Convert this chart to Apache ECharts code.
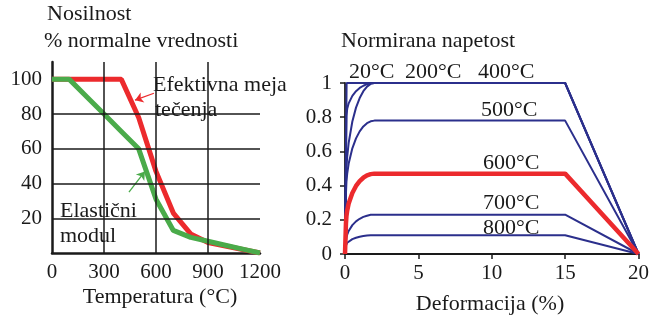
<!DOCTYPE html>
<html><head><meta charset="utf-8">
<script src="https://cdn.jsdelivr.net/npm/echarts@6/dist/echarts.min.js"></script>
<style>html,body{margin:0;padding:0;background:#fff}#c{width:652px;height:324px}</style>
</head><body><div id="c"></div>
<script>
// ---- Left chart: Nosilnost (% normalne vrednosti) vs temperature ----
const tempC = [0, 100, 200, 300, 400, 500, 600, 700, 800, 900, 1000, 1100, 1200];
const yieldPct = [100, 100, 100, 100, 100, 78, 47, 23, 11, 6, 4, 2, 0];
const modulusPct = [100, 100, 90, 80, 70, 60, 31, 13, 9, 6.75, 4.5, 2.25, 0];
const leftXTicks = [0, 300, 600, 900, 1200];
const leftYGrid = [20, 40, 60, 80];
const leftXGrid = [300, 600, 900];

// ---- Right chart: normalized stress vs strain (%) ----
const strain20 = [0, 0.11, 15, 20];
const stress20 = [0, 1, 1, 0];
const strain200 = [0, 0.10, 0.15, 0.25, 0.5, 0.75, 1, 1.25, 1.5, 1.75, 2, 15, 20];
const stress200 = [0, 0.807, 0.849, 0.881, 0.925, 0.952, 0.971, 0.984, 0.993, 0.998, 1, 1, 0];
const strain400 = [0, 0.067, 0.1, 0.15, 0.25, 0.5, 0.75, 1, 1.25, 1.5, 1.75, 2, 15, 20];
const stress400 = [0, 0.42, 0.505, 0.569, 0.650, 0.775, 0.856, 0.912, 0.952, 0.979, 0.995, 1, 1, 0];
const strain500 = [0, 0.067, 0.1, 0.15, 0.25, 0.5, 0.75, 1, 1.25, 1.5, 1.75, 2, 15, 20];
const stress500 = [0, 0.36, 0.424, 0.470, 0.529, 0.618, 0.676, 0.717, 0.746, 0.765, 0.776, 0.78, 0.78, 0];
const strain600 = [0, 0.065, 0.1, 0.15, 0.25, 0.5, 0.75, 1, 1.25, 1.5, 1.75, 2, 15, 20];
const stress600 = [0, 0.18, 0.223, 0.254, 0.295, 0.357, 0.398, 0.426, 0.446, 0.460, 0.467, 0.47, 0.47, 0];
const strain700 = [0, 0.065, 0.1, 0.15, 0.25, 0.5, 0.75, 1, 1.25, 1.5, 1.75, 2, 15, 20];
const stress700 = [0, 0.075, 0.097, 0.113, 0.135, 0.169, 0.191, 0.206, 0.217, 0.224, 0.229, 0.23, 0.23, 0];
const strain800 = [0, 0.062, 0.1, 0.15, 0.25, 0.5, 0.75, 1, 1.25, 1.5, 1.75, 2, 15, 20];
const stress800 = [0, 0.05, 0.060, 0.066, 0.074, 0.087, 0.095, 0.101, 0.105, 0.108, 0.110, 0.11, 0.11, 0];
const tempLabels = ['20°C', '200°C', '400°C', '500°C', '600°C', '700°C', '800°C'];

const FONT = '"Liberation Serif", "Times New Roman", serif';
const RED = '#ec2a2d', GREEN = '#4aab4a', BLUE = '#2b2f8c', INK = '#1a1a1a';

function pairs(xs, ys) { return xs.map((x, i) => [x, ys[i]]); }

const chart = echarts.init(document.getElementById('c'), null, { renderer: 'canvas' });

const gridMark = {
  silent: true, symbol: 'none', label: { show: false },
  lineStyle: { color: INK, width: 1.5, type: 'solid' },
  data: leftYGrid.map(v => ({ yAxis: v })).concat(leftXGrid.map(v => ({ xAxis: v })))
};

function blue(name, xs, ys) {
  return { name, type: 'line', xAxisIndex: 1, yAxisIndex: 1, data: pairs(xs, ys),
    showSymbol: false, symbol: 'none', lineStyle: { color: BLUE, width: 2 }, z: 3, animation: false };
}

const txt = (x, y, text, extra) => Object.assign({
  type: 'text', x, y,
  style: Object.assign({ text, font: '22px ' + FONT, fill: INK, verticalAlign: 'middle', align: 'left' }, extra || {})
});

chart.setOption({
  animation: false,
  backgroundColor: '#fff',
  grid: [
    { left: 52, top: 62, width: 208, height: 191 },
    { left: 345, top: 83, width: 296, height: 171 }
  ],
  xAxis: [
    { gridIndex: 0, type: 'value', min: 0, max: 1200, interval: 300,
      axisLine: { lineStyle: { color: INK, width: 2.5 } }, axisTick: { show: false },
      splitLine: { show: false },
      axisLabel: { color: INK, fontFamily: FONT, fontSize: 21, margin: 9,
        formatter: v => leftXTicks.includes(v) ? String(v) : '' } },
    { gridIndex: 1, type: 'value', min: 0, max: 20, interval: 5,
      axisLine: { lineStyle: { color: INK, width: 2 } },
      axisTick: { show: true, length: 5, lineStyle: { color: INK, width: 1.5 } },
      splitLine: { show: false },
      axisLabel: { color: INK, fontFamily: FONT, fontSize: 21, margin: 9, formatter: v => String(v) } }
  ],
  yAxis: [
    { gridIndex: 0, type: 'value', min: 0, max: 110, interval: 20,
      axisLine: { show: true, lineStyle: { color: INK, width: 2.5 } }, axisTick: { show: false },
      splitLine: { show: false },
      axisLabel: { color: INK, fontFamily: FONT, fontSize: 21, margin: 10,
        formatter: v => (v === 0 || v > 100) ? '' : String(v) } },
    { gridIndex: 1, type: 'value', min: 0, max: 1, interval: 0.2,
      axisLine: { show: true, lineStyle: { color: '#333', width: 2 } },
      axisTick: { show: true, length: 5, lineStyle: { color: INK, width: 1.5 } },
      splitLine: { show: false },
      axisLabel: { color: INK, fontFamily: FONT, fontSize: 21, margin: 13,
        formatter: v => String(Math.round(v * 10) / 10) } }
  ],
  series: [
    { name: 'Efektivna meja tečenja', type: 'line', xAxisIndex: 0, yAxisIndex: 0,
      data: pairs(tempC, yieldPct), symbol: 'none', showSymbol: false,
      lineStyle: { color: RED, width: 5 }, z: 3,
      markLine: {
        silent: true, symbol: ['none', 'arrow'], symbolSize: 8, label: { show: false },
        lineStyle: { color: RED, width: 1.3, type: 'solid' },
        data: [[{ coord: [588, 92] }, { coord: [479, 88] }]]
      } },
    { name: 'Elastični modul', type: 'line', xAxisIndex: 0, yAxisIndex: 0,
      data: pairs(tempC, modulusPct), symbol: 'none', showSymbol: false,
      lineStyle: { color: GREEN, width: 5 }, z: 4,
      markLine: {
        silent: true, symbol: ['none', 'arrow'], symbolSize: 8, label: { show: false },
        lineStyle: { color: GREEN, width: 1.3, type: 'solid' },
        data: [[{ coord: [444, 35] }, { coord: [536, 47] }]]
      } },
    { name: 'grid', type: 'line', xAxisIndex: 0, yAxisIndex: 0, data: [], z: 1, markLine: gridMark },
    blue(tempLabels[0], strain20, stress20),
    blue(tempLabels[1], strain200, stress200),
    blue(tempLabels[2], strain400, stress400),
    blue(tempLabels[3], strain500, stress500),
    { name: tempLabels[4], type: 'line', xAxisIndex: 1, yAxisIndex: 1, data: pairs(strain600, stress600),
      symbol: 'none', showSymbol: false, lineStyle: { color: RED, width: 4.5 }, z: 5 },
    blue(tempLabels[5], strain700, stress700),
    blue(tempLabels[6], strain800, stress800)
  ],
  graphic: [
    txt(47, 14, 'Nosilnost'),
    txt(44, 41, '% normalne vrednosti'),
    txt(153, 85, 'Efektivna meja'),
    txt(155, 110, 'tečenja'),
    txt(60, 211, 'Elastični'),
    txt(60, 236, 'modul'),
    txt(160, 297, 'Temperatura (°C)', { align: 'center' }),
    txt(341, 41, 'Normirana napetost'),
    txt(349, 72, tempLabels[0]),
    txt(405, 72, tempLabels[1]),
    txt(478, 72, tempLabels[2]),
    txt(481, 110, tempLabels[3]),
    txt(483, 163, tempLabels[4]),
    txt(483, 203, tempLabels[5]),
    txt(483, 228, tempLabels[6]),
    txt(490, 304, 'Deformacija (%)', { align: 'center' })
  ]
});
</script>
</body></html>
